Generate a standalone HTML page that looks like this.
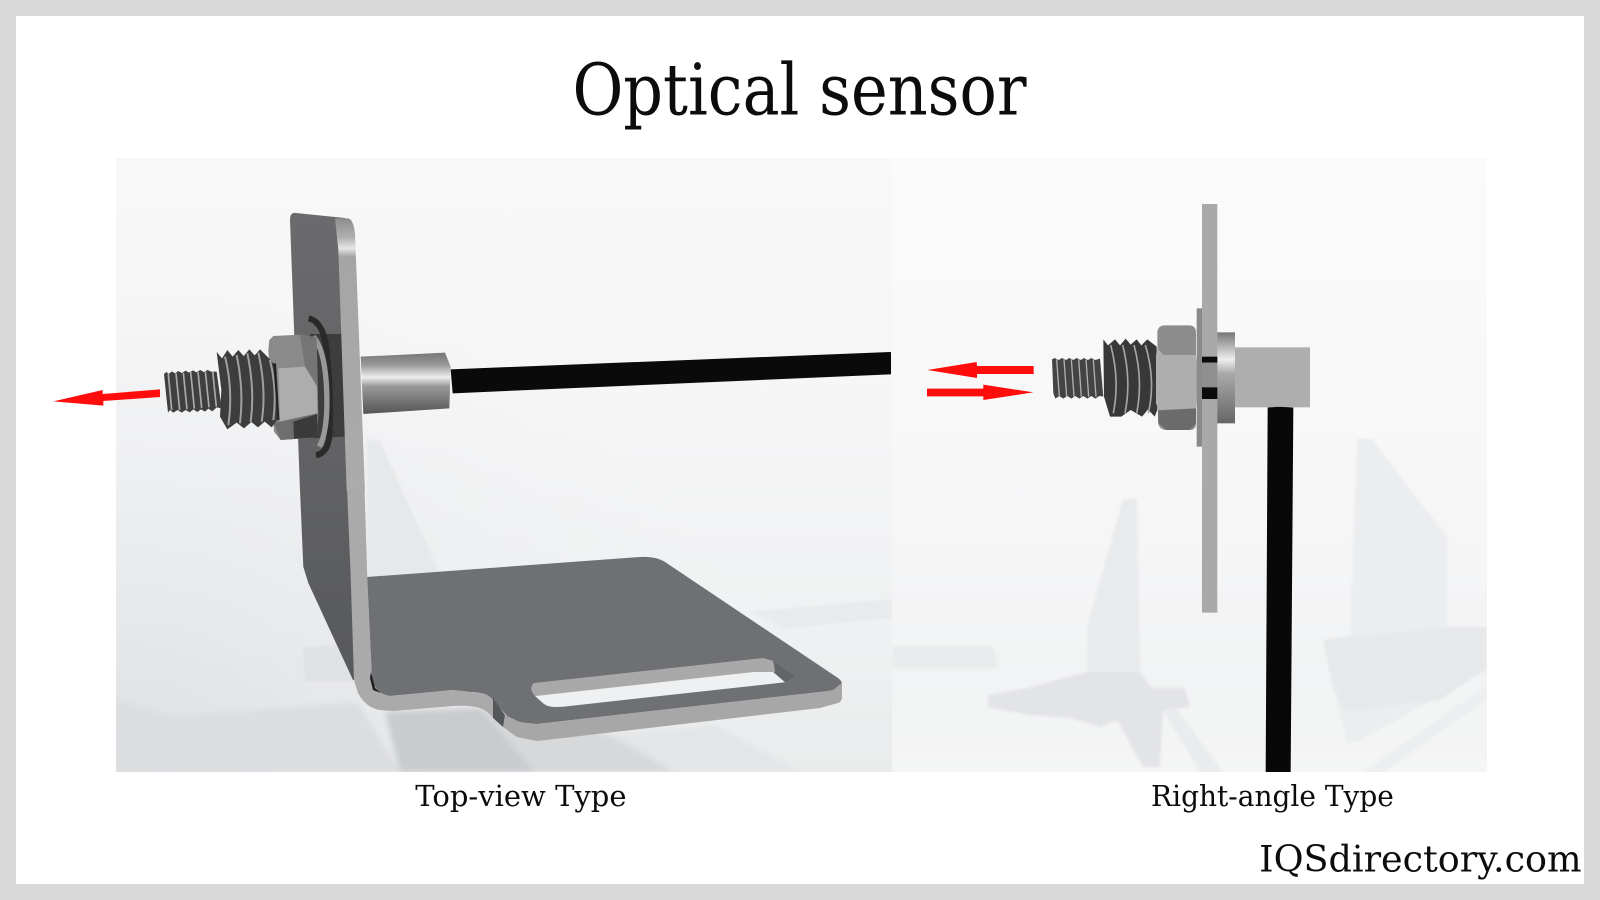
<!DOCTYPE html>
<html><head><meta charset="utf-8"><title>Optical sensor</title>
<style>html,body{margin:0;padding:0;background:#fff}svg{display:block}text{font-family:"DejaVu Serif","Liberation Serif",serif;fill:#0c0c0c}</style>
</head><body>
<svg xmlns="http://www.w3.org/2000/svg" width="1600" height="900" viewBox="0 0 1600 900">
<defs>
<linearGradient id="lp" x1="0" y1="0" x2="0" y2="1"><stop offset="0" stop-color="#f8f8f8"/><stop offset=".45" stop-color="#f5f5f6"/><stop offset=".8" stop-color="#eef0f1"/><stop offset="1" stop-color="#e9ebec"/></linearGradient>
<radialGradient id="lp2" cx="0" cy="1" r=".85"><stop offset="0" stop-color="#dcdee1" stop-opacity=".9"/><stop offset="1" stop-color="#eceef0" stop-opacity="0"/></radialGradient>
<linearGradient id="rp" x1="0" y1="0" x2="0" y2="1"><stop offset="0" stop-color="#fbfbfb"/><stop offset=".5" stop-color="#f7f7f8"/><stop offset=".85" stop-color="#f2f3f4"/><stop offset="1" stop-color="#f4f5f5"/></linearGradient>
<linearGradient id="cyl" x1="0" y1="0" x2="0" y2="1"><stop offset="0" stop-color="#777"/><stop offset=".2" stop-color="#999"/><stop offset=".4" stop-color="#eee"/><stop offset=".55" stop-color="#999"/><stop offset=".85" stop-color="#6b6b6b"/><stop offset="1" stop-color="#555"/></linearGradient>
<linearGradient id="edge" x1="0" y1="0" x2="0" y2="1"><stop offset="0" stop-color="#8d8d8d"/><stop offset=".07" stop-color="#b0b0b0"/><stop offset=".11" stop-color="#e6e6e6"/><stop offset=".14" stop-color="#a5a5a5"/><stop offset="1" stop-color="#ababab"/></linearGradient>
<linearGradient id="face" x1="0" y1="0" x2="0" y2="1"><stop offset="0" stop-color="#6b6b6d"/><stop offset="1" stop-color="#58595c"/></linearGradient>
<linearGradient id="cyl2" x1="0" y1="0" x2="0" y2="1"><stop offset="0" stop-color="#777"/><stop offset=".3" stop-color="#eee"/><stop offset=".45" stop-color="#aaa"/><stop offset="1" stop-color="#666"/></linearGradient>
<filter id="b1" x="-10%" y="-10%" width="120%" height="120%"><feGaussianBlur stdDeviation="1.2"/></filter>
<filter id="b3" x="-10%" y="-10%" width="120%" height="120%"><feGaussianBlur stdDeviation="3"/></filter>
<clipPath id="cl"><rect x="116" y="158" width="776" height="614"/></clipPath>
<clipPath id="cr"><rect x="892" y="158" width="595" height="614"/></clipPath>
</defs>
<rect width="1600" height="900" fill="#d9d9d9"/>
<rect x="16" y="16" width="1568" height="868" fill="#fff"/>

<!-- panels -->
<rect x="116" y="158" width="776" height="614" fill="url(#lp)"/>
<rect x="116" y="158" width="776" height="614" fill="url(#lp2)"/>
<rect x="892" y="158" width="595" height="614" fill="url(#rp)"/>

<!-- left panel shadows -->
<g clip-path="url(#cl)">
<g filter="url(#b3)">
<polygon points="116,700 173,717 357,702 400,772 116,772" fill="#dcdde0"/>
<polygon points="385,712 480,708 535,772 400,772" fill="#c9cbce"/>
<polygon points="480,708 610,735 675,772 535,772" fill="#d6d8da"/>
<polygon points="610,735 715,725 800,772 675,772" fill="#e3e5e7"/>
</g>
<g filter="url(#b1)">
<polygon points="367,439 380,441 440,574 367,580" fill="#e6e8ea"/>
<polygon points="303,647 345,645 356,682 305,682" fill="#e1e2e4"/>
<polygon points="750,612 892,599 892,618 786,629" fill="#e8ebec"/>
</g>
</g>

<!-- right panel shadows -->
<g clip-path="url(#cr)" filter="url(#b1)">
<polygon points="892,646 993,646 999,668 892,668" fill="#e9ebec"/>
<polygon points="1123,499 1137,499 1140,672 1087,672 1087,627" fill="#e8eaec"/>
<polygon points="1163,710 1177,710 1223,772 1200,772" fill="#e9ebed"/>
<polygon points="988,695 1027,688 1087,672 1140,672 1152,688 1185,688 1190,707 1163,710 1160,767 1143,767 1117,720 1100,727 1070,718 1030,715 988,707" fill="#e3e4e7"/>
<polygon points="1357,439 1372,439 1447,537 1447,627 1487,627 1487,670 1357,742 1347,742 1332,683 1323,640 1350,635" fill="#ebedef"/>
<polygon points="1323,640 1447,627 1487,627 1487,668 1440,700 1345,712 1332,683" fill="#e6e8ea"/>
<polygon points="1487,685 1487,700 1383,772 1363,772" fill="#eceef0"/>
</g>

<!-- bracket: dark back face -->
<path d="M345,218 L296,213 Q290,212 290,220 L300,490 L303.3,566.7 L308.3,583 L353,680 L360,680 L355,488 L345,240 Z" fill="url(#face)"/>
<!-- floor top -->
<path d="M367,577 L640,557 Q658,556 668,564 L838,678 Q846,684 838,690 L820,692 L537,724 Q518,724 507,716 L493,700 Q486,692 470,692 L453,690 L390,696 Q376,694 372,680 Z" fill="#6f7073"/>
<!-- slot -->
<path d="M534,683 L763,658 L773,660.7 L775,672 L753,672 L535,696 Q528,688 534,683 Z" fill="#a8a9a8"/>
<path d="M535,696 L544,704 Q548,707 556,707 L563,706.7 L785,682.3 L773,672 L753,672 Z" fill="#eff0f1"/>
<polygon points="775,662 795,676.7 785,682 775,672" fill="#636466"/>
<!-- strip: vertical + bend -->
<path d="M347,488 L350.7,577 L354,680 L358,693 Q366,708 380,710 L393,711 L453,706 Q470,705 480,708 Q488,711 493,718 L495,702 Q488,693 480,693 L453,690 L390,696 Q376,694 372,680 L367.3,577 L364.5,488 Z" fill="#a9aaa9"/>
<!-- strip: front floor edge -->
<path d="M505,715 L520,722 L537,724 L820,692 L833,690 L842,683 L842,698 Q841,702 838,703 L820,708 L537,741 L517,737 L503,727 Z" fill="#a6a7a6"/>
<polygon points="493,698 505,715 503,727 493,718" fill="#55565a"/>
<path d="M371,672 L375,688 L381,693 L373,690 L370,678 Z" fill="#1d1d1d"/>

<!-- upper left detail -->
<g transform="translate(40,190) scale(.333333)">
<polygon points="1232,538 2553,486 2553,553 1238,610" fill="#0a0a0a"/>
<polygon points="962,500 1215,488 1232,530 1228,655 970,672" fill="url(#cyl)"/>
<polygon points="810,432 905,432 915,740 820,745" fill="#3d3d3e"/>
<path d="M806,385 Q850,395 860,480 Q875,620 868,740 Q862,790 828,796" fill="none" stroke="#2a2a2a" stroke-width="18"/>
<path d="M820,440 Q855,480 860,600 Q865,720 838,770" fill="none" stroke="#999" stroke-width="16"/>
<polygon points="688,450 700,438 782,434 830,442 835,680 830,742 722,750 702,725 685,480" fill="#8a8a8a"/>
<polygon points="715,535 795,530 830,580 832,670 720,695" fill="#adadad"/>
<polygon points="702,700 720,695 832,670 832,742 722,750" fill="#6e6e6e"/>
<polygon points="760,695 832,672 832,742 762,746" fill="#3a3a3a"/>
<polygon points="780,434 830,442 832,590 795,530" fill="#757575"/>
<path d="M372,552 L379,546 L386,552 L396,544 L405,550 L415,543 L425,549 L437,542 L447,548 L459,541 L469,547 L481,540 L491,546 L503,540 L513,545 L530,545 L545,655 L530,652 L517,664 L505,656 L495,665 L483,658 L472,666 L460,658 L449,667 L437,660 L425,668 L413,660 L400,668 L390,660 L384,668 Z" fill="#3f3f3f"/>
<g stroke="#ababab" stroke-width="5" fill="none"><path d="M385,552 L395,660"/><path d="M408,550 L419,660"/><path d="M430,548 L441,658"/><path d="M452,546 L463,656"/><path d="M474,546 L485,654"/><path d="M496,544 L507,652"/><path d="M518,544 L529,650"/></g>
<path d="M530,486 L546,505 L562,480 L578,500 L595,480 L611,498 L628,478 L644,496 L660,478 L682,500 L700,520 L712,690 L695,712 L674,695 L654,712 L634,696 L612,715 L590,698 L562,718 L540,680 L544,600 Z" fill="#3d3d3d"/>
<g stroke="#a0a0a0" stroke-width="6" fill="none"><path d="M555,500 Q580,600 565,705"/><path d="M590,495 Q612,600 600,700"/><path d="M622,490 Q645,600 632,696"/><path d="M655,488 Q680,600 665,695"/><path d="M690,510 Q712,600 700,690"/></g>
<polygon points="700,520 712,690 718,690 708,520" fill="#222"/>
<path d="M885,85 L925,85 Q940,88 945,130 L975,903 L920,903 L895,180 Z" fill="url(#edge)"/>
<polygon points="40,634 188,600 188,612 360,598 360,621 190,633 190,647" fill="#ff0c0c"/>
</g>

<!-- right sensor -->
<g transform="translate(900,300) scale(.333333)">
<polygon points="82,210 230,186 231,198 401,198 401,222 231,222 231,234" fill="#ff0c0c"/>
<polygon points="81,266 250,266 250,254 400,277 250,300 250,289 81,289" fill="#ff0c0c"/>
<rect x="1005" y="142" width="225" height="180" fill="#aeaeae"/>
<path d="M1103,323 Q1140,318 1180,323 L1172,1416 L1097,1416 Z" fill="#080808"/>
<rect x="950" y="97" width="55" height="273" fill="url(#cyl2)"/>
<path d="M456,178 L464,174 L476,180 L486,174 L498,180 L508,174 L520,180 L530,174 L542,180 L552,174 L564,180 L574,174 L586,180 L600,176 L610,290 L598,288 L586,296 L574,288 L562,296 L550,288 L538,296 L526,288 L514,296 L502,288 L490,296 L478,288 L466,296 L460,280 Z" fill="#444"/>
<g stroke="#b0b0b0" stroke-width="4" fill="none"><path d="M470,178 L478,290"/><path d="M492,178 L500,290"/><path d="M514,178 L522,290"/><path d="M536,178 L544,290"/><path d="M558,178 L566,290"/><path d="M580,178 L588,290"/></g>
<path d="M610,118 L624,136 L645,118 L660,136 L677,116 L692,134 L710,118 L724,136 L742,118 L770,140 L772,330 L764,350 L744,328 L726,350 L692,330 L664,350 L630,350 L612,290 Z" fill="#383838"/>
<g stroke="#a4a4a4" stroke-width="5" fill="none"><path d="M632,135 Q660,240 640,340"/><path d="M668,135 Q695,240 675,340"/><path d="M702,135 Q730,240 710,340"/><path d="M736,135 Q768,240 745,340"/></g>
<path d="M772,100 Q772,76 795,76 L868,76 Q888,76 888,100 L888,370 Q888,390 868,390 L800,390 Q776,390 774,365 Z" fill="#8c8c8c"/>
<polygon points="772,145 768,165 768,310 776,330 888,325 895,240 888,165 880,165 790,165" fill="#aeaeae"/>
<polygon points="774,332 888,325 888,370 868,390 800,390 776,370" fill="#6b6b6b"/>
<rect x="890" y="25" width="16" height="415" fill="#8a8a8a"/>
<rect x="906" y="-288" width="46" height="1226" fill="#a9a9a9"/>
<rect x="906" y="170" width="46" height="18" fill="#0b0b0b"/>
<rect x="906" y="188" width="46" height="74" fill="#8f8f8f"/>
<rect x="906" y="262" width="46" height="35" fill="#0b0b0b"/>
</g>

<g transform="scale(1.020408)">
<text x="561" y="112" font-size="70" textLength="445" lengthAdjust="spacingAndGlyphs">Optical sensor</text>
<text x="407" y="790" font-size="28" textLength="207" lengthAdjust="spacingAndGlyphs">Top-view Type</text>
<text x="1128" y="790" font-size="28" textLength="238" lengthAdjust="spacingAndGlyphs">Right-angle Type</text>
<text x="1234" y="854" font-size="36" textLength="316" lengthAdjust="spacingAndGlyphs">IQSdirectory.com</text>
</g>
</svg>
</body></html>
